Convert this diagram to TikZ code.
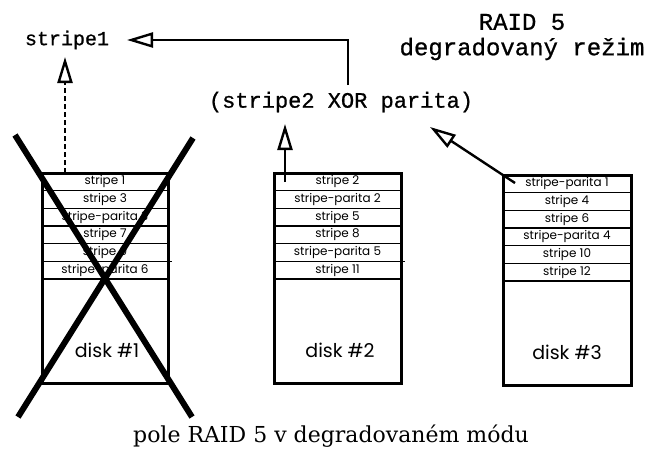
\documentclass[tikz,border=0pt]{standalone}
\usepackage{fontspec}
\usetikzlibrary{arrows.meta}
\newfontfamily\typefont[FakeBold=0.8]{Liberation Mono}
\newfontfamily\rowfont{Poppins}
\newfontfamily\capfont{DejaVu Serif}

\tikzset{
  every node/.style={inner sep=0pt, outer sep=0pt},
  rowbox/.style={draw, line width=1.6pt, minimum width=#1, minimum height=17.67pt,
    anchor=north west, font=\rowfont\fontsize{12}{13}\selectfont},
  diskbox/.style={draw, line width=3pt, minimum width=#1, minimum height=210pt,
    anchor=north west},
  disklabel/.style={font=\rowfont\fontsize{19}{21}\selectfont},
  mono/.style={font=\typefont\fontsize{#1}{#1}\selectfont},
  openarrow/.style={line width=2.4pt,
    -{Triangle[open, length=26pt, width=15pt, line width=2.4pt]}},
  cross/.style={line width=6pt},
  tick/.style={line width=1.2pt},
}

\newcommand{\diskrows}[5]{%
  % #1 prefix, #2 x, #3 y, #4 width, #5 list of row texts
  \foreach \t [count=\i] in {#5} {
    \node[rowbox=#4] (#1r\i) at (#2, #3 + 17.67*\i - 17.67) {\t};
  }
}

\begin{document}
\begin{tikzpicture}[x=1pt, y=-1pt]
  \useasboundingbox (0,0) rectangle (659,448);

  % disk #1
  \diskrows{d1}{42}{173}{126pt}{stripe 1, stripe 3, stripe-parita 3, stripe 7, stripe 9, stripe-parita 6}
  \node[diskbox=126pt] (disk1) at (42,173) {};
  \node[disklabel] (lab1) at (107,350) {disk \#1};
  \draw[tick] (d1r5.south east) -- ++(4,0);

  % disk #2
  \diskrows{d2}{274}{173}{127pt}{stripe 2, stripe-parita 2, stripe 5, stripe 8, stripe-parita 5, stripe 11}
  \node[diskbox=127pt] (disk2) at (274,173) {};
  \node[disklabel] (lab2) at (340,350) {disk \#2};
  \draw[tick] (d2r5.south east) -- ++(4,0);

  % disk #3
  \diskrows{d3}{503}{175}{128pt}{stripe-parita 1, stripe 4, stripe 6, stripe-parita 4, stripe 10, stripe 12}
  \node[diskbox=128pt] (disk3) at (503,175) {};
  \node[disklabel] (lab3) at (567,352) {disk \#3};

  % labels
  \node[mono=20] (s1) at (67,40) {stripe1};
  \node[mono=22] (xor) at (341,102) {(stripe2 XOR parita)};
  \node[mono=24] (title1) at (522,22) {RAID 5};
  \node[mono=24] (title2) at (522,49) {degradovaný režim};
  \node[font=\capfont\fontsize{22}{24}\selectfont] (caption) at (331,436)
    {pole RAID 5 v degradovaném módu};

  % connector anchors
  \coordinate (c1) at (65,173);
  \coordinate (c1t) at (65,57);
  \coordinate (c2) at (285,182);
  \coordinate (c2t) at (285,124);
  \coordinate (c3) at (515,183);
  \coordinate (c3t) at (430,127);
  \coordinate (cx) at (348,85);
  \coordinate (cs) at (127,40);

  % reconstruction paths
  \draw[openarrow, dash pattern=on 5pt off 3pt] (c1) -- (c1t);
  \draw[openarrow] (c2) -- (c2t);
  \draw[openarrow] (c3) -- (c3t);
  \draw[openarrow] (cx) |- (cs);

  % failed disk
  \coordinate (x1) at (15,135);
  \coordinate (x2) at (192,417);
  \coordinate (x3) at (193,138);
  \coordinate (x4) at (18,417);
  \draw[cross] (x1) -- (x2);
  \draw[cross] (x3) -- (x4);
\end{tikzpicture}
\end{document}
